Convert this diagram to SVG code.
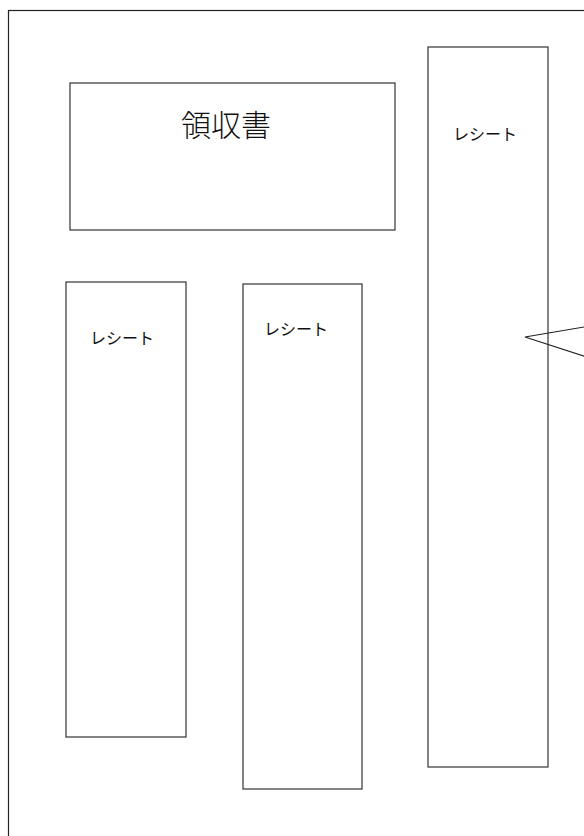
<svg xmlns="http://www.w3.org/2000/svg" width="584" height="836" viewBox="0 0 584 836">
<style>
.box{fill:#fff;stroke:#333;stroke-width:1.2}
.lbl{font-family:"Noto Sans CJK JP","Noto Sans CJK SC",sans-serif;fill:#111;text-anchor:middle}
.sm{font-size:16px;font-weight:400}
.big{font-size:30px;font-weight:300}
</style>
<rect x="0" y="0" width="584" height="836" fill="#fff"/>
<rect x="8.5" y="10.5" width="640" height="900" fill="none" stroke="#222" stroke-width="1.2"/>
<g id="ryoshusho">
<rect class="box" x="70" y="83" width="325" height="147"/>
<text class="lbl big" x="226" y="136">領収書</text>
</g>
<g id="receipt1">
<rect class="box" x="66" y="282" width="120" height="455"/>
<text class="lbl sm" x="122" y="344">レシート</text>
</g>
<g id="receipt2">
<rect class="box" x="243" y="284" width="119" height="505"/>
<text class="lbl sm" x="296" y="335">レシート</text>
</g>
<g id="receipt3">
<rect class="box" x="428" y="47" width="120" height="720"/>
<text class="lbl sm" x="485" y="140">レシート</text>
</g>
<g id="connectors">
<polyline points="590,326 525,337 590,358" fill="none" stroke="#222" stroke-width="1.2"/>
</g>
</svg>
